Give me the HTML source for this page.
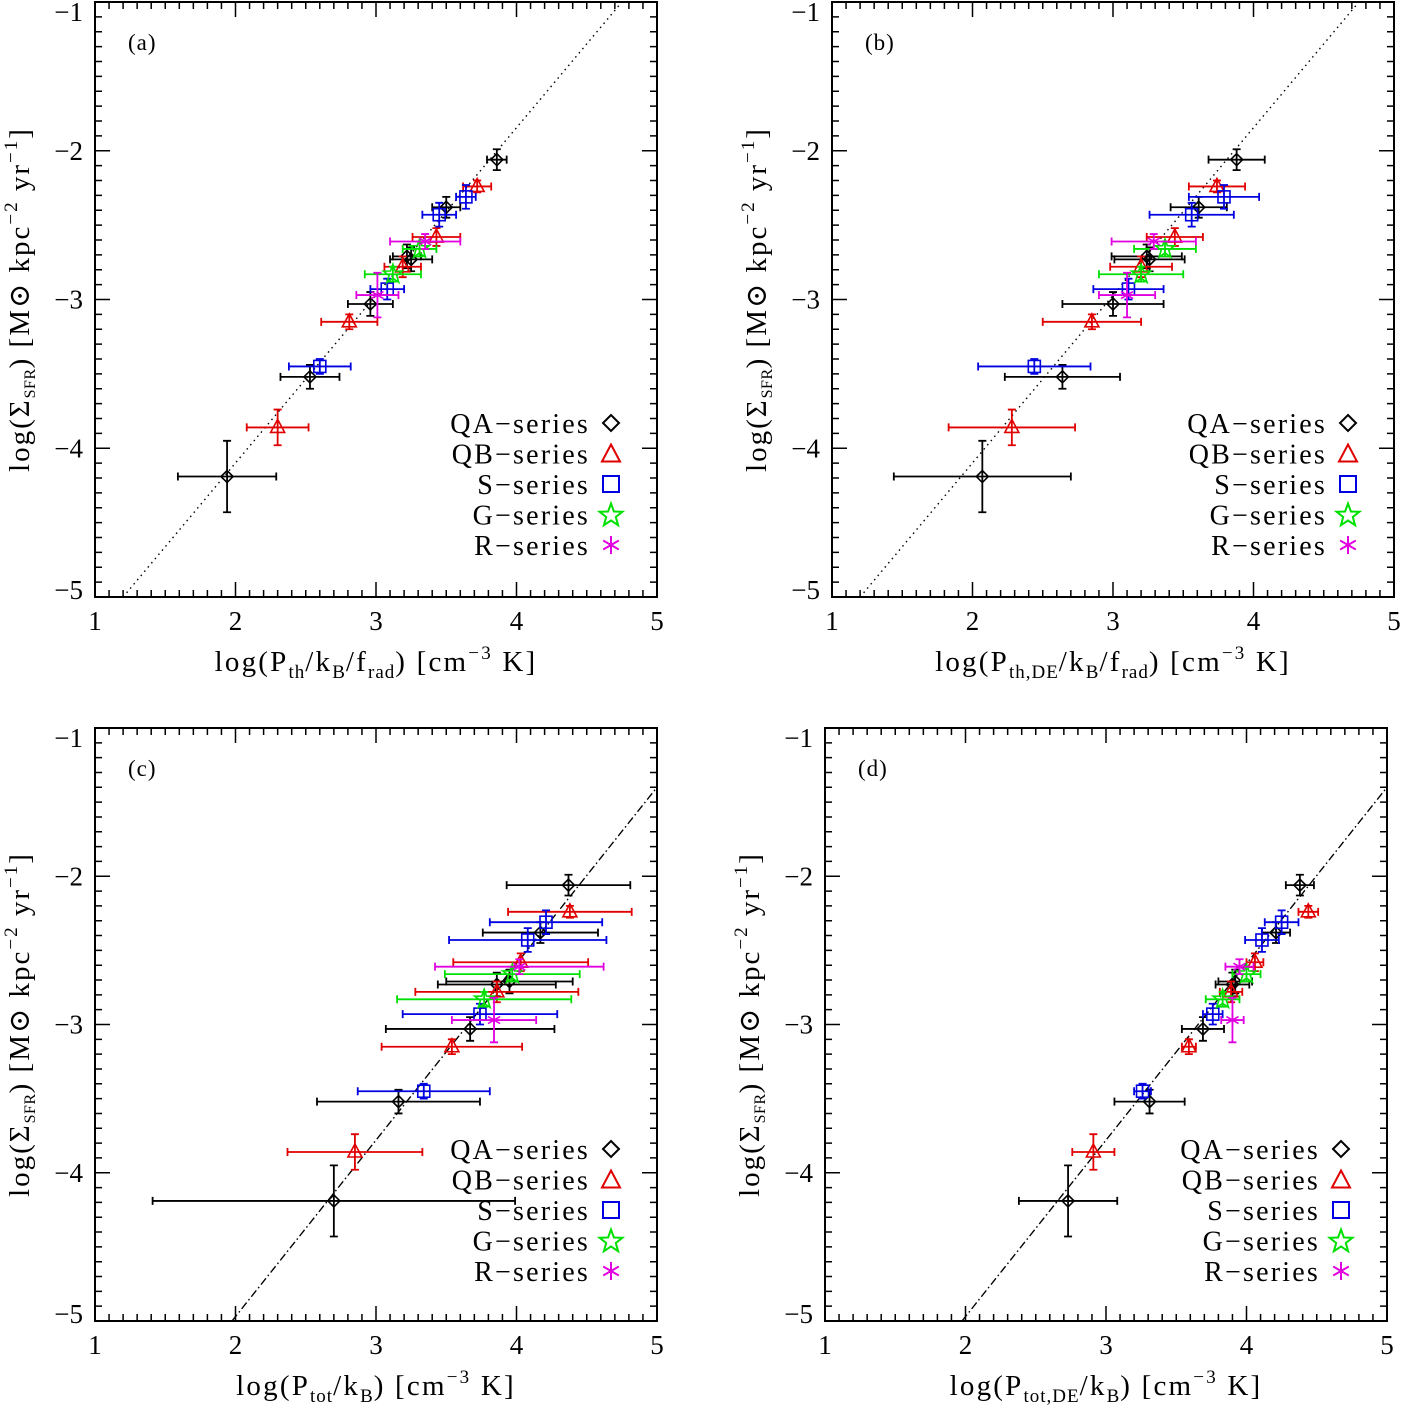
<!DOCTYPE html>
<html><head><meta charset="utf-8"><style>
html,body{margin:0;padding:0;background:#fff;}
svg{display:block;font-family:"Liberation Serif","DejaVu Serif",serif;}
</style></head><body>
<svg id="fig" width="1403" height="1406" viewBox="0 0 1403 1406" xmlns="http://www.w3.org/2000/svg"></svg>
<script>
// ---- data (shared y values across panels) ----
const ySeries = {
  QA: [-4.19, -3.52, -3.03, -2.73, -2.71, -2.38, -2.06],
  QB: [-3.86, -3.15, -2.78, -2.58, -2.24],
  S:  [-3.45, -2.93, -2.43, -2.31],
  G:  [-2.83, -2.66],
  R:  [-2.97, -2.61]
};
const yErr = {
  QA: [0.24, 0.08, 0.08, 0.08, 0.08, 0.07, 0.07],
  QB: [0.12, 0.05, 0.07, 0.06, 0.04],
  S:  [0.05, 0.07, 0.08, 0.08],
  G:  [0.05, 0.05],
  R:  [0.15, 0.05]
};
// panel a
const xA = {QA:[1.94,2.53,2.96,3.25,3.22,3.50,3.86], QB:[2.30,2.81,3.19,3.43,3.72], S:[2.60,3.08,3.45,3.64], G:[3.12,3.31], R:[3.01,3.35]};
const exA = {QA:[0.35,0.21,0.16,0.15,0.1,0.1,0.07], QB:[0.22,0.2,0.13,0.17,0.1], S:[0.22,0.12,0.12,0.07], G:[0.2,0.12], R:[0.15,0.25]};
// panel b
const xB = {QA:[2.07,2.64,3.00,3.26,3.24,3.61,3.88], QB:[2.28,2.85,3.20,3.44,3.74], S:[2.44,3.11,3.56,3.79], G:[3.20,3.37], R:[3.10,3.29]};
const exB = {QA:[0.63,0.41,0.36,0.25,0.25,0.2,0.2], QB:[0.45,0.35,0.22,0.2,0.2], S:[0.4,0.25,0.3,0.25], G:[0.3,0.22], R:[0.2,0.3]};
// panel c
const xC = {QA:[2.70,3.16,3.67,3.86,3.95,4.17,4.37], QB:[2.85,3.54,3.86,4.03,4.38], S:[3.34,3.74,4.08,4.21], G:[3.77,3.97], R:[3.84,4.02]};
const exC = {QA:[1.29,0.58,0.60,0.42,0.45,0.41,0.44], QB:[0.48,0.5,0.58,0.48,0.44], S:[0.47,0.55,0.56,0.4], G:[0.62,0.48], R:[0.3,0.6]};
// panel d
const xD = {QA:[2.73,3.31,3.69,3.90,3.92,4.21,4.38], QB:[2.91,3.59,3.89,4.06,4.44], S:[3.26,3.76,4.11,4.25], G:[3.83,4.00], R:[3.90,3.95]};
const exD = {QA:[0.35,0.25,0.15,0.12,0.12,0.1,0.1], QB:[0.15,0.05,0.08,0.06,0.07], S:[0.06,0.07,0.12,0.12], G:[0.12,0.1], R:[0.08,0.1]};
const seriesNames = ["QA","QB","S","G","R"];
const legendLabels = ["QA\u2212series","QB\u2212series","S\u2212series","G\u2212series","R\u2212series"];
const colors = {QA:"#000",QB:"#e00000",S:"#0000e0",G:"#00e000",R:"#e000e0"};
const xTicks = [1,2,3,4,5];
const yTicks = [-1,-2,-3,-4,-5];
const fitAB = [[1.2,-5],[4.75,-1]];
const fitCD = [[1.975,-5],[5.0,-1.4]];

const NS="http://www.w3.org/2000/svg";
const svg=document.getElementById('fig');
function mk(tag,attrs,parent){const e=document.createElementNS(NS,tag);for(const k in attrs)e.setAttribute(k,attrs[k]);(parent||svg).appendChild(e);return e;}

const panels=[
 {id:'a',L:95,R:657,T:2,B:597,x:xA,ex:exA,fit:fitAB,dash:"1.5 4",xl:["P","th","/k","B","/f","rad"]},
 {id:'b',L:832,R:1394,T:2,B:597,x:xB,ex:exB,fit:fitAB,dash:"1.5 4",xl:["P","th,DE","/k","B","/f","rad"]},
 {id:'c',L:95,R:657,T:728,B:1321,x:xC,ex:exC,fit:fitCD,dash:"8 3 1.5 3",xl:["P","tot","/k","B"]},
 {id:'d',L:825,R:1387,T:728,B:1321,x:xD,ex:exD,fit:fitCD,dash:"8 3 1.5 3",xl:["P","tot,DE","/k","B"]}
];

function marker(g,s,px,py,c){
  if(s==="QA"){const m=mk('polygon',{points:`${px},${py-6} ${px+6},${py} ${px},${py+6} ${px-6},${py}`,fill:'none',stroke:c,'stroke-width':1.6},g);}
  else if(s==="QB"){const m=mk('polygon',{points:`${px},${py-8} ${px+7},${py+5} ${px-7},${py+5}`,fill:'none',stroke:c,'stroke-width':1.6},g);}
  else if(s==="S"){const m=mk('rect',{x:px-6,y:py-6,width:12,height:12,fill:'none',stroke:c,'stroke-width':1.6},g);}
  else if(s==="G"){let p=[];for(let i=0;i<10;i++){const r=i%2?4:10,a=-Math.PI/2+i*Math.PI/5;p.push((px+r*Math.cos(a)).toFixed(1)+','+(py+r*Math.sin(a)).toFixed(1));}
    const m=mk('polygon',{points:p.join(' '),fill:'none',stroke:c,'stroke-width':1.6},g);}
  else {let d='';for(let i=0;i<3;i++){const a=Math.PI/2+i*Math.PI/3;d+=`M${px-7*Math.cos(a)},${py-7*Math.sin(a)}L${px+7*Math.cos(a)},${py+7*Math.sin(a)}`;}
    const m=mk('path',{d:d,stroke:c,'stroke-width':1.6,fill:'none'},g);}
}

panels.forEach(P=>{
  const g=mk('g',{});
  
  
  const sx=v=>P.L+(v-1)/4*(P.R-P.L);
  const sy=v=>P.T+(-1-v)/4*(P.B-P.T);
  let d='';
  for(let i=0;i<=40;i++){const v=1+i*0.1,x=sx(v),len=(i%10===0)?15:7;d+=`M${x},${P.B}v${-len}M${x},${P.T}v${len}`;}
  for(let i=0;i<=40;i++){const v=-1-i*0.1,y=sy(v),len=(i%10===0)?15:7;d+=`M${P.L},${y}h${len}M${P.R},${y}h${-len}`;}
  const tk=mk('path',{d:d,stroke:'#000','stroke-width':1.5,fill:'none'},g);
  
  xTicks.forEach(v=>{const t=mk('text',{x:sx(v),y:P.B+33,'font-size':27,'text-anchor':'middle'},g);t.textContent=v;
    });
  yTicks.forEach((v,i)=>{const off=i===0?10:(i===yTicks.length-1?-7:0);
    const t=mk('text',{x:P.L-12,y:sy(v)+9+off,'font-size':27,'text-anchor':'end'},g);t.textContent='\u2212'+Math.abs(v);
    });
  const fl=mk('line',{x1:sx(P.fit[0][0]),y1:sy(P.fit[0][1]),x2:sx(P.fit[1][0]),y2:sy(P.fit[1][1]),stroke:'#000','stroke-width':1.4,'stroke-dasharray':P.dash},g);
  
  seriesNames.forEach(s=>{
    const c=colors[s];
    P.x[s].forEach((xv,i)=>{
      const yv=ySeries[s][i],ex=P.ex[s][i],ey=yErr[s][i];
      const px=sx(xv),py=sy(yv),x1=sx(xv-ex),x2=sx(xv+ex),y1=sy(yv+ey),y2=sy(yv-ey);
      const eb=mk('path',{d:`M${x1},${py}H${x2}M${x1},${py-4}v8M${x2},${py-4}v8M${px},${y1}V${y2}M${px-4},${y1}h8M${px-4},${y2}h8`,stroke:c,'stroke-width':1.8,fill:'none'},g);
      
      marker(g,s,px,py,c);
    });
  });
  const fr=mk('rect',{x:P.L,y:P.T,width:P.R-P.L,height:P.B-P.T,fill:'none',stroke:'#000','stroke-width':2},g);
  
  const pl=mk('text',{x:P.L+33,y:P.T+48,'font-size':23,'letter-spacing':'1'},g);pl.textContent='('+P.id+')';
  
  seriesNames.forEach((s,i)=>{
    const ly=P.T+421+i*30.5;
    const t=mk('text',{x:P.R-67,y:ly+10,'font-size':28,'text-anchor':'end','letter-spacing':'2.2'},g);t.textContent=legendLabels[i];
    
    const mg=mk('g',{},g);
    
    const px=P.R-46;
    if(s==="QA"){mk('polygon',{points:`${px},${ly-8} ${px+8},${ly} ${px},${ly+8} ${px-8},${ly}`,fill:'none',stroke:colors[s],'stroke-width':2},mg);}
    else if(s==="QB"){mk('polygon',{points:`${px},${ly-9} ${px+9},${ly+8} ${px-9},${ly+8}`,fill:'none',stroke:colors[s],'stroke-width':2},mg);}
    else if(s==="S"){mk('rect',{x:px-8,y:ly-8,width:16,height:16,fill:'none',stroke:colors[s],'stroke-width':2},mg);}
    else if(s==="G"){let p=[];for(let k=0;k<10;k++){const r=k%2?5:12,a=-Math.PI/2+k*Math.PI/5;p.push((px+r*Math.cos(a)).toFixed(1)+','+(ly+1+r*Math.sin(a)).toFixed(1));}
      mk('polygon',{points:p.join(' '),fill:'none',stroke:colors[s],'stroke-width':2},mg);}
    else {let dd='';for(let k=0;k<3;k++){const a=Math.PI/2+k*Math.PI/3;dd+=`M${px-9*Math.cos(a)},${ly-9*Math.sin(a)}L${px+9*Math.cos(a)},${ly+9*Math.sin(a)}`;}
      mk('path',{d:dd,stroke:colors[s],'stroke-width':2,fill:'none'},mg);}
  });
  const xt=mk('text',{x:(P.L+P.R)/2,y:P.B+74,'font-size':29,'text-anchor':'middle','letter-spacing':'2.2'},g);
  
  let h='log(';
  for(let k=0;k<P.xl.length;k+=2){
    h+=`<tspan${k>0?' dy="-7"':''}>${P.xl[k]}</tspan><tspan font-size="19" dy="7" letter-spacing="1">${P.xl[k+1]}</tspan>`;
  }
  h+=`<tspan dy="-7">) [cm</tspan><tspan font-size="19" dy="-12">\u22123</tspan><tspan dy="12"> K]</tspan>`;
  xt.innerHTML=h;
  const yt=mk('text',{x:0,y:0,'font-size':29,'text-anchor':'middle',transform:`translate(${P.L-66},${(P.T+P.B)/2}) rotate(-90)`,'letter-spacing':'2'},g);
  
  yt.innerHTML=`log(\u03A3<tspan font-size="16" dy="6" letter-spacing="0.5">SFR</tspan><tspan dy="-6">) [M\u2299 kpc</tspan><tspan font-size="19" dy="-12">\u22122</tspan><tspan dy="12"> yr</tspan><tspan font-size="19" dy="-12">\u22121</tspan><tspan dy="12">]</tspan>`;
});
</script>
</body></html>
